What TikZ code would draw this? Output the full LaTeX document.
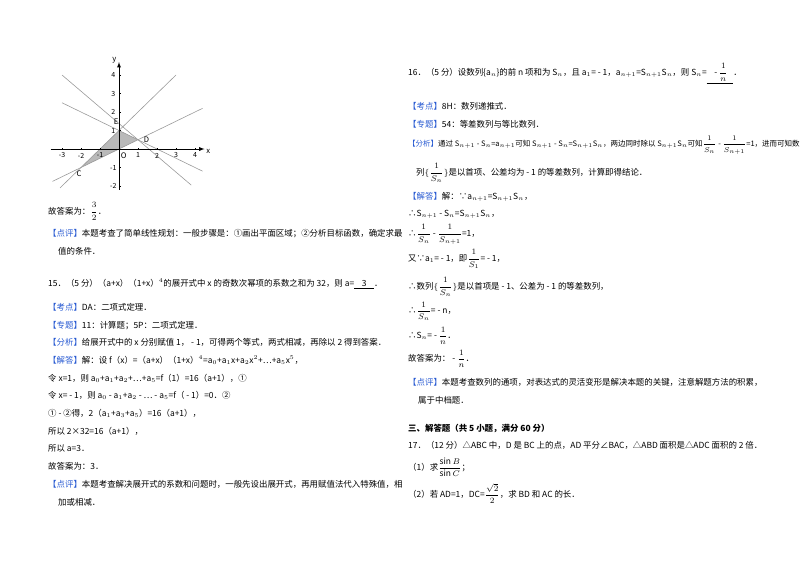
\documentclass[tikz,border=0pt]{standalone}
\usepackage{fontspec}
\setmainfont{Noto Sans CJK SC}
\definecolor{kd}{RGB}{40,90,210}
\newcommand\kd[1]{{\color{kd}【#1】}}
\newcommand\fr[2]{{\displaystyle\frac{#1}{#2}}}
\begin{document}
\begin{tikzpicture}[x=0.3mm,y=-0.3mm,
  txt/.style={anchor=base west,inner sep=0pt,font=\fontsize{7.2}{9}\selectfont},
  gl/.style={gray!80,line width=0.5pt},
  ax/.style={line width=0.6pt,-latex}]
\useasboundingbox (0,0) rectangle (800,565);
% graph
\begin{scope}[shift={(119,149)},x=19*0.3mm,y=18.5*0.3mm]
  \fill[gray!55] (-2,-1) coordinate (C) -- (0,1) coordinate (E) -- (1,0.5) coordinate (D) -- cycle;
  \draw[gl] (-3.1,-2.1) -- (3,4);
  \draw[gl] (-3.5,-1.75) -- (4.4,2.2);
  \draw[gl] (-3,2.5) -- (4.4,-1.2);
  \draw[gl] (-3,4) -- (3.8,-1.95);
  \draw[ax] (-3.6,0) -- (4.5,0);
  \draw[ax] (0,-2.2) -- (0,4.7);
  \foreach \i in {-3,-2,-1,1,2,3,4} {\draw (\i,0) -- (\i,0.08); \node[font=\fontsize{6}{6}\selectfont,inner sep=1pt] (xl\i) at (\i,-0.35) {\i};}
  \foreach \i in {-2,-1,1,2,3,4} {\draw (0,\i) -- (0.08,\i); \node[font=\fontsize{6}{6}\selectfont,inner sep=1pt] (yl\i) at (-0.3,\i) {\i};}
  \node[font=\fontsize{6.5}{6}\itshape,inner sep=0pt] (xn) at (4.7,-0.15) {x};
  \node[font=\fontsize{6.5}{6}\itshape,inner sep=0pt] (yn) at (-0.25,4.8) {y};
  \node[font=\fontsize{6.5}{6}\itshape,inner sep=0pt] (On) at (0.25,-0.35) {O};
  \node[font=\fontsize{6.5}{6}\itshape,inner sep=0pt] (Cn) at (-2.1,-1.35) {C};
  \node[font=\fontsize{6.5}{6}\itshape,inner sep=0pt] (Dn) at (1.45,0.5) {D};
  \node[font=\fontsize{6.5}{6}\itshape,inner sep=0pt] (En) at (-0.15,1.5) {E};
\end{scope}
% left column
\node[txt] (l1) at (48,214) {故答案为：$\fr{3}{2}$．};
\node[txt] (l2) at (48,236) {\kd{点评}本题考查了简单线性规划：一般步骤是：①画出平面区域；②分析目标函数，确定求最};
\node[txt] (l3) at (58,254) {值的条件．};
\node[txt] (l4) at (48,286) {15．（5 分）（a+x）（1+x）$^4$的展开式中 x 的奇数次幂项的系数之和为 32，则 a=\underline{\ \ \ \ 3\ \ \ \ }．};
\node[txt] (l5) at (48,310) {\kd{考点}DA：二项式定理．};
\node[txt] (l6) at (48,328) {\kd{专题}11：计算题；5P：二项式定理．};
\node[txt] (l7) at (48,345) {\kd{分析}给展开式中的 x 分别赋值 1， - 1，可得两个等式，两式相减，再除以 2 得到答案．};
\node[txt] (l8) at (48,363) {\kd{解答}解：设 f（x）=（a+x）（1+x）$^4$=a$_0$+a$_1$x+a$_2$x$^2$+…+a$_5$x$^5$，};
\node[txt] (l9) at (48,381) {令 x=1，则 a$_0$+a$_1$+a$_2$+…+a$_5$=f（1）=16（a+1），①};
\node[txt] (l10) at (48,398) {令 x= - 1，则 a$_0$ - a$_1$+a$_2$ - … - a$_5$=f（ - 1）=0．②};
\node[txt] (l11) at (48,416) {① - ②得，2（a$_1$+a$_3$+a$_5$）=16（a+1），};
\node[txt] (l12) at (48,434) {所以 2×32=16（a+1），};
\node[txt] (l13) at (48,451) {所以 a=3．};
\node[txt] (l14) at (48,469) {故答案为：3．};
\node[txt] (l15) at (48,487) {\kd{点评}本题考查解决展开式的系数和问题时，一般先设出展开式，再用赋值法代入特殊值，相};
\node[txt] (l16) at (58,505) {加或相减．};
% right column
\node[txt] (r1) at (408,75) {16．（5 分）设数列\{a$_n$\}的前 n 项和为 S$_n$，且 a$_1$= - 1，a$_{n+1}$=S$_{n+1}$S$_n$，则 S$_n$=\underline{\ \ \ \ - $\fr{1}{n}$\ \ \ }．};
\node[txt] (r2) at (408,109) {\kd{考点}8H：数列递推式．};
\node[txt] (r3) at (408,127) {\kd{专题}54：等差数列与等比数列．};
\node[txt,font=\fontsize{6.4}{9}\selectfont] (r4) at (408,146) {\kd{分析}通过 S$_{n+1}$ - S$_n$=a$_{n+1}$可知 S$_{n+1}$ - S$_n$=S$_{n+1}$S$_n$，两边同时除以 S$_{n+1}$S$_n$可知$\fr{1}{S_n}$ - $\fr{1}{S_{n+1}}$=1，进而可知数};
\node[txt] (r5) at (416,175) {列$\{\fr{1}{S_n}\}$是以首项、公差均为 - 1 的等差数列，计算即得结论．};
\node[txt] (r6) at (408,199) {\kd{解答}解：∵a$_{n+1}$=S$_{n+1}$S$_n$，};
\node[txt] (r7) at (408,216) {∴S$_{n+1}$ - S$_n$=S$_{n+1}$S$_n$，};
\node[txt] (r8) at (408,236) {∴$\fr{1}{S_n}$ - $\fr{1}{S_{n+1}}$=1，};
\node[txt] (r9) at (408,261) {又∵a$_1$= - 1，即$\fr{1}{S_1}$= - 1，};
\node[txt] (r10) at (408,289) {∴数列$\{\fr{1}{S_n}\}$是以首项是 - 1、公差为 - 1 的等差数列，};
\node[txt] (r11) at (408,313) {∴$\fr{1}{S_n}$= - n，};
\node[txt] (r12) at (408,338) {∴S$_n$= - $\fr{1}{n}$．};
\node[txt] (r13) at (408,361) {故答案为： - $\fr{1}{n}$．};
\node[txt] (r14) at (408,385) {\kd{点评}本题考查数列的通项，对表达式的灵活变形是解决本题的关键，注意解题方法的积累，};
\node[txt] (r15) at (418,403) {属于中档题．};
\node[txt,font=\fontsize{7.2}{9}\selectfont\bfseries] (r16) at (408,431) {三、解答题（共 5 小题，满分 60 分）};
\node[txt] (r17) at (408,448) {17．（12 分）△ABC 中，D 是 BC 上的点，AD 平分∠BAC，△ABD 面积是△ADC 面积的 2 倍．};
\node[txt] (r18) at (408,470) {（1）求$\fr{\sin B}{\sin C}$；};
\node[txt] (r19) at (408,497) {（2）若 AD=1，DC=$\fr{\sqrt2}{2}$，求 BD 和 AC 的长．};
\end{tikzpicture}
\end{document}
